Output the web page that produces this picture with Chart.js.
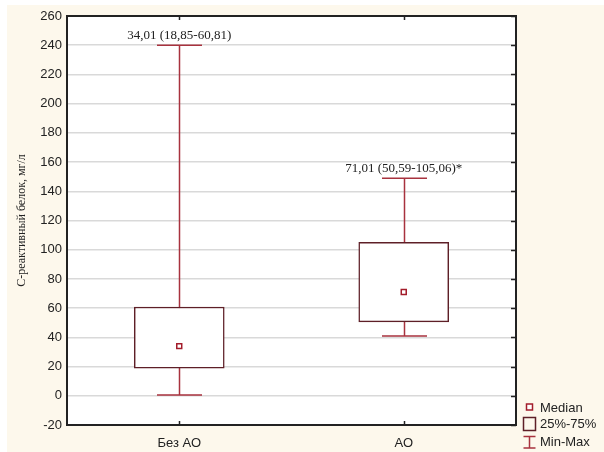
<!DOCTYPE html>
<html>
<head>
<meta charset="utf-8">
<script src="https://cdn.jsdelivr.net/npm/chart.js@4"></script>
<style>
  body { margin: 0; background: #fff; }
  #chart { display: block; }
</style>
</head>
<body>
<canvas id="chart" width="604" height="452"></canvas>
<script>
// Data
const categories = ['Без АО', 'АО'];
const minValues = [0.5, 41];
const q1Values = [18.85, 50.59];
const medianValues = [34.01, 71.01];
const q3Values = [60.81, 105.06];
const maxValues = [240, 149];
const noteLabels = ['34,01 (18,85-60,81)', '71,01 (50,59-105,06)*'];
const yMin = -20;
const yMax = 260;
const yStep = 20;

const BOX_COLOR = '#5e1f27';
const WHISKER_COLOR = '#a8323e';
const MEDIAN_COLOR = '#a31d2b';
const FRAME_COLOR = '#222';

// Cream page background
const backgroundPlugin = {
  id: 'background',
  beforeDraw(chart) {
    const ctx = chart.ctx;
    ctx.save();
    ctx.fillStyle = '#ffffff';
    ctx.fillRect(0, 0, chart.width, chart.height);
    ctx.fillStyle = '#fdf8ec';
    ctx.fillRect(7, 5, chart.width - 7, chart.height - 5);
    ctx.fillStyle = '#ffffff';
    const a = chart.chartArea;
    ctx.fillRect(a.left, a.top, a.right - a.left, a.bottom - a.top);
    ctx.restore();
  }
};

// Min-Max whiskers with caps, drawn under the boxes
const whiskerPlugin = {
  id: 'whiskers',
  beforeDatasetsDraw(chart) {
    const ctx = chart.ctx;
    const x = chart.scales.x;
    const y = chart.scales.y;
    const boxMeta = chart.getDatasetMeta(0);
    ctx.save();
    ctx.strokeStyle = WHISKER_COLOR;
    ctx.lineWidth = 1.5;
    categories.forEach((c, i) => {
      const px = Math.round(x.getPixelForValue(i)) + 0.5;
      const half = boxMeta.data[i].width / 4;
      const pMin = y.getPixelForValue(minValues[i]);
      const pMax = y.getPixelForValue(maxValues[i]);
      ctx.beginPath();
      ctx.moveTo(px, pMin);
      ctx.lineTo(px, pMax);
      ctx.moveTo(px - half, pMin);
      ctx.lineTo(px + half, pMin);
      ctx.moveTo(px - half, pMax);
      ctx.lineTo(px + half, pMax);
      ctx.stroke();
    });
    ctx.restore();
  }
};

// Frame, inward ticks, value notes and legend
const framePlugin = {
  id: 'frame',
  afterDraw(chart) {
    const ctx = chart.ctx;
    const a = chart.chartArea;
    const x = chart.scales.x;
    const y = chart.scales.y;
    ctx.save();

    ctx.strokeStyle = FRAME_COLOR;
    ctx.lineWidth = 2;
    ctx.strokeRect(a.left, a.top, a.right - a.left, a.bottom - a.top);

    ctx.lineWidth = 1.5;
    ctx.beginPath();
    y.ticks.forEach(t => {
      const py = Math.round(y.getPixelForValue(t.value)) + 0.5;
      ctx.moveTo(a.right, py);
      ctx.lineTo(a.right - 5, py);
    });
    categories.forEach((c, i) => {
      const px = Math.round(x.getPixelForValue(i)) + 0.5;
      ctx.moveTo(px, a.top);
      ctx.lineTo(px, a.top + 4);
      ctx.moveTo(px, a.bottom);
      ctx.lineTo(px, a.bottom - 4);
    });
    ctx.stroke();

    ctx.fillStyle = '#222';
    ctx.font = '13px "Liberation Serif", "Times New Roman", serif';
    ctx.textAlign = 'center';
    ctx.textBaseline = 'alphabetic';
    noteLabels.forEach((txt, i) => {
      const px = x.getPixelForValue(i);
      const py = y.getPixelForValue(maxValues[i]) - 6;
      ctx.fillText(txt, px, py);
    });

    // legend
    const lx = 529.5;
    ctx.lineWidth = 1.5;
    ctx.strokeStyle = MEDIAN_COLOR;
    ctx.fillStyle = '#fff';
    ctx.fillRect(lx - 3, 404, 6, 6);
    ctx.strokeRect(lx - 3, 404, 6, 6);
    ctx.strokeStyle = BOX_COLOR;
    ctx.strokeRect(lx - 6, 417.5, 12, 13);
    ctx.strokeStyle = WHISKER_COLOR;
    ctx.beginPath();
    ctx.moveTo(lx - 6, 436.5);
    ctx.lineTo(lx + 6, 436.5);
    ctx.moveTo(lx, 436.5);
    ctx.lineTo(lx, 448);
    ctx.moveTo(lx - 6, 448);
    ctx.lineTo(lx + 6, 448);
    ctx.stroke();

    ctx.fillStyle = '#222';
    ctx.font = '13px "Liberation Sans", Arial, sans-serif';
    ctx.textAlign = 'left';
    ctx.textBaseline = 'middle';
    ctx.fillText('Median', 540, 408);
    ctx.fillText('25%-75%', 540, 424);
    ctx.fillText('Min-Max', 540, 442);

    ctx.restore();
  }
};

new Chart(document.getElementById('chart'), {
  type: 'bar',
  data: {
    labels: categories,
    datasets: [{
      label: '25%-75%',
      data: q1Values.map((q, i) => [q, q3Values[i]]),
      backgroundColor: '#ffffff',
      borderColor: BOX_COLOR,
      borderWidth: 1.5,
      borderSkipped: false,
      barThickness: 90,
      order: 2
    }, {
      type: 'line',
      label: 'Median',
      data: medianValues,
      showLine: false,
      pointStyle: 'rect',
      pointRadius: 3.5,
      pointBorderWidth: 1.5,
      pointBorderColor: MEDIAN_COLOR,
      pointBackgroundColor: '#ffffff',
      order: 1
    }]
  },
  options: {
    responsive: false,
    animation: false,
    layout: { padding: { left: 10, top: 16, right: 88, bottom: 0 } },
    plugins: {
      legend: { display: false },
      tooltip: { enabled: false }
    },
    scales: {
      x: {
        grid: { display: false, drawTicks: false },
        border: { display: false },
        ticks: {
          color: '#222',
          padding: 11,
          font: { family: '"Liberation Sans", Arial, sans-serif', size: 13 }
        },
        afterFit(scale) { scale.height = 27; }
      },
      y: {
        min: yMin,
        max: yMax,
        grid: { color: '#d9d9d9', lineWidth: 1.5, drawTicks: false },
        border: { display: false },
        ticks: {
          stepSize: yStep,
          color: '#222',
          padding: 5,
          font: { family: '"Liberation Sans", Arial, sans-serif', size: 13 }
        },
        title: {
          display: true,
          text: 'С-реактивный белок, мг/л',
          color: '#222',
          padding: { top: 5, bottom: 0 },
          font: { family: '"Liberation Serif", "Times New Roman", serif', size: 12 }
        },
        afterFit(scale) { scale.width = 57; }
      }
    }
  },
  plugins: [backgroundPlugin, whiskerPlugin, framePlugin]
});
</script>
</body>
</html>
